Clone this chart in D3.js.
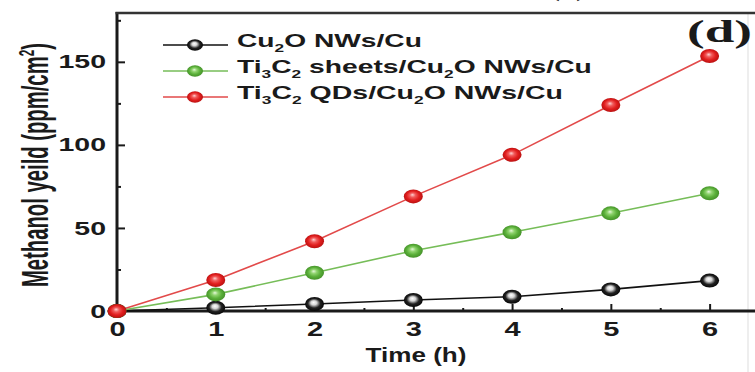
<!DOCTYPE html>
<html>
<head>
<meta charset="utf-8">
<script src="https://cdn.jsdelivr.net/npm/d3@7"></script>
<style>
  body { margin: 0; background: #fff; }
  text { font-family: "Liberation Sans", Arial, sans-serif; font-weight: bold; fill: #1a1a1a; }
</style>
</head>
<body>
<svg width="755" height="372"></svg>
<script>
// data
var times = [0, 1, 2, 3, 4, 5, 6];
var cu2o = [0, 2, 4.2, 6.6, 8.6, 13, 18.3];
var sheets = [0, 10, 23, 36.3, 47.4, 58.8, 70.9];
var qds = [0, 18.7, 42, 69, 94, 124, 153.5];
var yTicks = [0, 50, 100, 150];
var yMinor = [25, 75, 125, 175];
var xTicks = [0, 1, 2, 3, 4, 5, 6];
var xMinor = [0.5, 1.5, 2.5, 3.5, 4.5, 5.5];
// legend labels, pieces flagged 1 are subscripts
var labels = [
    [["Cu"], ["2", 1], ["O NWs/Cu"]],
    [["Ti"], ["3", 1], ["C"], ["2", 1], [" sheets/Cu"], ["2", 1], ["O NWs/Cu"]],
    [["Ti"], ["3", 1], ["C"], ["2", 1], [" QDs/Cu"], ["2", 1], ["O NWs/Cu"]]
];

var svg = d3.select("svg");
var x = d3.scaleLinear().domain([0, 6.5]).range([117, 759]);
var y = d3.scaleLinear().domain([0, 180]).range([311, 12]);
var ink = "#1a1a1a";

var series = [
    { values: cu2o, line: "#111111", grad: ["#ffffff", "#d6d6d6", "#222222", "#000000"] },
    { values: sheets, line: "#76bd58", grad: ["#e6f8da", "#8fd36e", "#5bb03a", "#3f8a25"] },
    { values: qds, line: "#e24a4a", grad: ["#ffd0d0", "#f05a5a", "#e21f1f", "#b00d0d"] }
];

// glossy marker gradients
var defs = svg.append("defs");
series.forEach(function (s, i) {
    var rg = defs.append("radialGradient").attr("id", "g" + i)
        .attr("cx", "50%").attr("cy", "50%").attr("r", "55%")
        .attr("fx", "45%").attr("fy", "38%");
    rg.append("stop").attr("offset", "0%").attr("stop-color", s.grad[0]);
    rg.append("stop").attr("offset", "28%").attr("stop-color", s.grad[1]);
    rg.append("stop").attr("offset", "60%").attr("stop-color", s.grad[2]);
    rg.append("stop").attr("offset", "100%").attr("stop-color", s.grad[3]);
});

/* stretch a text horizontally so it fills a given width */
function fitText(t, target, sy, tx, ty) {
    var w = t.node().getBBox().width;
    t.attr("transform", "translate(" + tx + "," + ty + ") scale(" + (target / w) + "," + (sy || 1) + ")");
}

// faint edge line at the right
svg.append("line").attr("x1", 748).attr("x2", 748).attr("y1", 13).attr("y2", 372)
    .attr("stroke", "#e8e8e8").attr("stroke-width", 1.5);

// axes
var gy = svg.append("g").attr("transform", "translate(117,0)")
    .call(d3.axisLeft(y).tickValues(yTicks).tickSizeInner(-8).tickSizeOuter(0).tickPadding(12));
var gyMinor = svg.append("g").attr("transform", "translate(117,0)")
    .call(d3.axisLeft(y).tickValues(yMinor).tickSizeInner(-4).tickSizeOuter(0).tickFormat(""));
var gx = svg.append("g").attr("transform", "translate(0,311)")
    .call(d3.axisBottom(x).tickValues(xTicks).tickFormat(d3.format("d"))
        .tickSizeInner(-7).tickSizeOuter(0).tickPadding(9));
var gxMinor = svg.append("g").attr("transform", "translate(0,311)")
    .call(d3.axisBottom(x).tickValues(xMinor).tickSizeInner(-3).tickSizeOuter(0).tickFormat(""));

[gy, gyMinor, gx, gxMinor].forEach(function (g) {
    g.attr("font-family", null).attr("font-size", null);
    g.select(".domain").remove();
    g.selectAll(".tick line").attr("stroke", ink).attr("stroke-width", 2);
});
gy.selectAll(".tick text").attr("x", null).style("font-size", "19px")
    .attr("transform", "translate(-11,0) scale(1.5,1)");
gx.selectAll(".tick text").attr("y", null).attr("dy", null).style("font-size", "20px")
    .attr("transform", "translate(0,25) scale(1.45,1)");

// frame lines
svg.append("line").attr("x1", 117).attr("x2", 117).attr("y1", 12).attr("y2", 312.5)
    .attr("stroke", ink).attr("stroke-width", 3);
svg.append("line").attr("x1", 115.5).attr("x2", 755).attr("y1", 311).attr("y2", 311)
    .attr("stroke", ink).attr("stroke-width", 3);
svg.append("line").attr("x1", 115.5).attr("x2", 755).attr("y1", 13).attr("y2", 13)
    .attr("stroke", "#333").attr("stroke-width", 2.5);

// series lines and markers
var line = d3.line().x(function (d, i) { return x(times[i]); }).y(function (d) { return y(d); });
series.forEach(function (s, i) {
    svg.append("path").datum(s.values).attr("d", line)
        .attr("fill", "none").attr("stroke", s.line).attr("stroke-width", 1.6);
});
series.forEach(function (s, i) {
    svg.selectAll(".m" + i).data(s.values).enter().append("ellipse")
        .attr("class", "m" + i)
        .attr("cx", function (d, j) { return x(times[j]); })
        .attr("cy", function (d) { return y(d); })
        .attr("rx", 9.5).attr("ry", 7)
        .attr("fill", "url(#g" + i + ")");
});

// legend
var rows = [45, 71, 97];
var widths = [185, 355, 326];
series.forEach(function (s, i) {
    var ry = rows[i];
    svg.append("line").attr("x1", 163).attr("x2", 228).attr("y1", ry).attr("y2", ry)
        .attr("stroke", s.line).attr("stroke-width", 1.6);
    svg.append("ellipse").attr("cx", 195).attr("cy", ry).attr("rx", 8).attr("ry", 5.8)
        .attr("fill", "url(#g" + i + ")");
    var t = svg.append("text").style("font-size", "18px");
    labels[i].forEach(function (p) {
        if (p[1]) {
            t.append("tspan").attr("dy", 5).style("font-size", "11px").text(p[0]);
        } else {
            t.append("tspan").attr("dy", t.selectAll("tspan").size() ? -5 : 0).text(p[0]);
        }
    });
    fitText(t, widths[i], 1, 237, ry + 6.5);
});

// y axis title
var yl = svg.append("text").style("font-size", "26px");
yl.append("tspan").text("Methanol yeild (ppm/cm");
yl.append("tspan").attr("dy", -10).style("font-size", "15px").text("2");
yl.append("tspan").attr("dy", 10).text(")");
var ylw = yl.node().getBBox().width;
yl.attr("transform", "translate(48,287) rotate(-90) scale(" + (244 / ylw) + ",1.45)");

// x axis title
var xl = svg.append("text").attr("text-anchor", "middle").style("font-size", "21px").text("Time (h)");
fitText(xl, 101, 1, 416, 362);

// panel label
var pl = svg.append("text").attr("text-anchor", "middle")
    .style("font-family", "'Liberation Serif', 'Times New Roman', serif")
    .style("font-size", "32px").text("(d)");
fitText(pl, 65, 1, 719.5, 42);

// cropped bits of neighbouring panels
var pc = svg.append("text").attr("text-anchor", "middle")
    .style("font-family", "'Liberation Serif', 'Times New Roman', serif")
    .style("font-size", "30px").text("(c)");
fitText(pc, 40, 1, 568, -5);
svg.append("text").attr("x", 95).attr("y", 388).attr("text-anchor", "middle")
    .style("font-size", "24px").text("c");
</script>
</body>
</html>
